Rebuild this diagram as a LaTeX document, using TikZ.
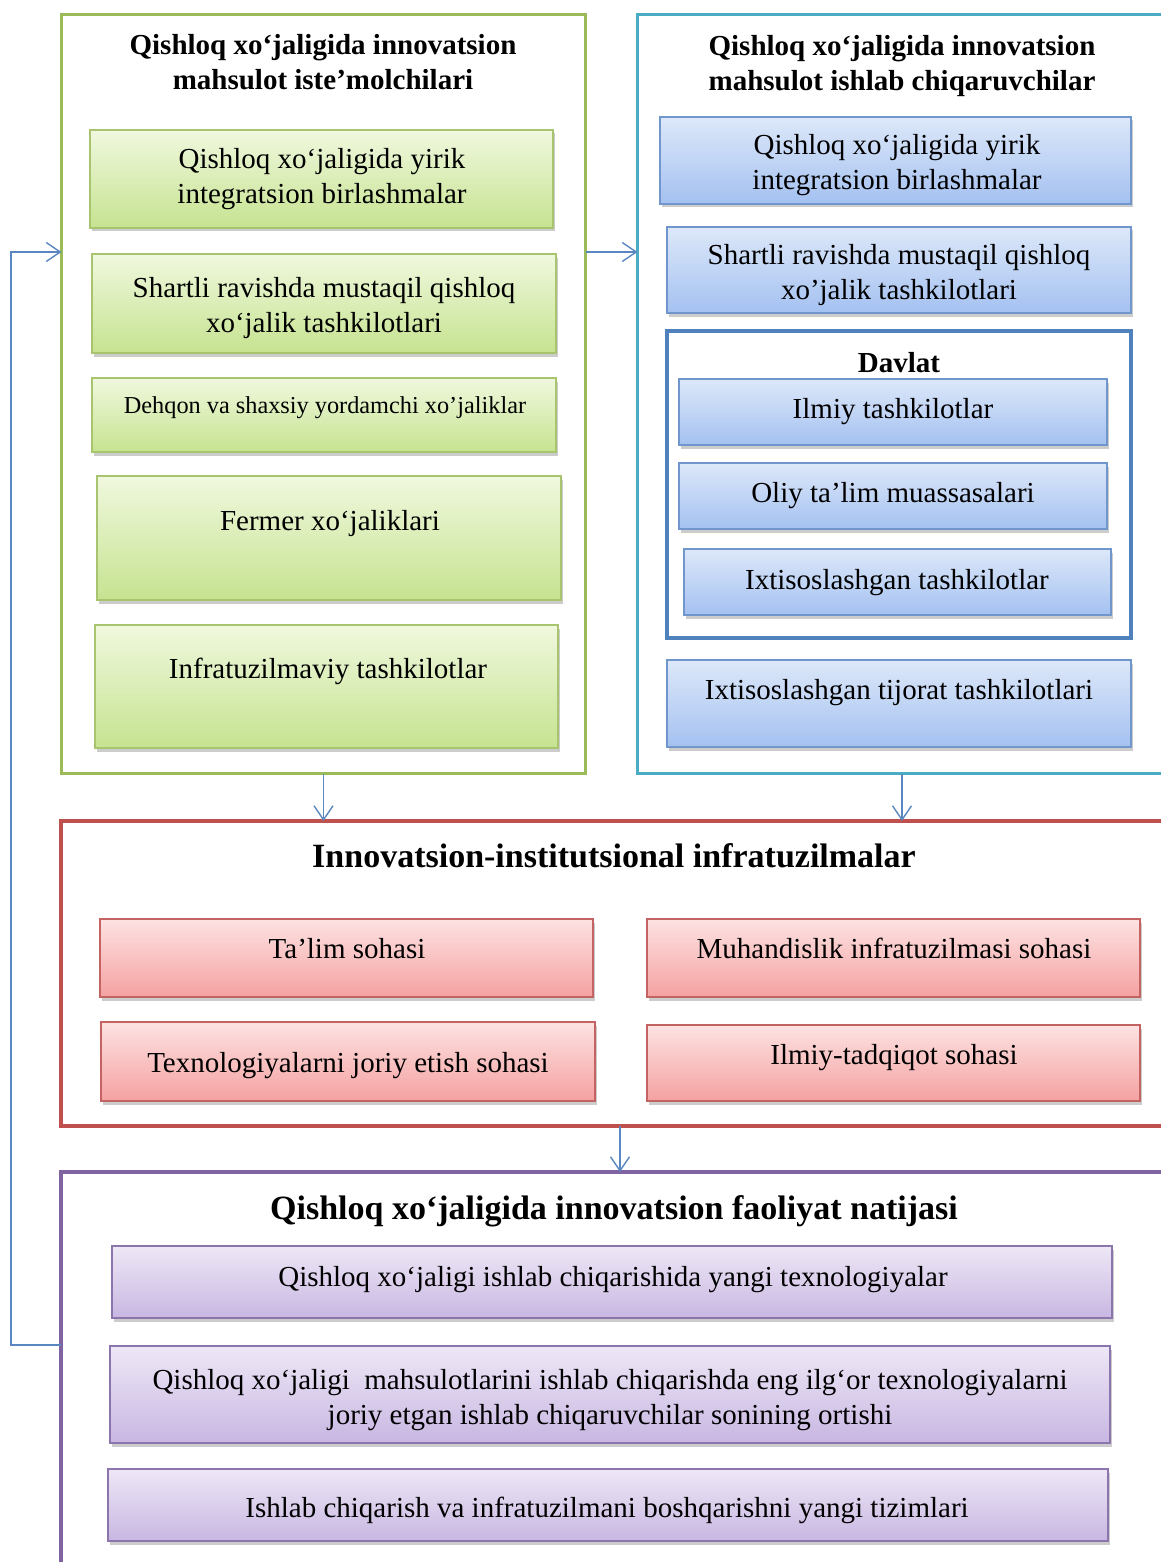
\documentclass[tikz,border=0pt]{standalone}
\usepackage{fontspec}
\setmainfont{Liberation Serif}
\usetikzlibrary{shadows,arrows.meta}
\definecolor{gline}{HTML}{9BBB59}
\definecolor{gtop}{HTML}{F0F8DE}
\definecolor{gbot}{HTML}{C6E390}
\definecolor{gbord}{HTML}{A9C46E}
\definecolor{tline}{HTML}{4BACC6}
\definecolor{bline}{HTML}{4F81BD}
\definecolor{btop}{HTML}{DDE8F9}
\definecolor{bbot}{HTML}{A4C1F1}
\definecolor{bbord}{HTML}{7096CB}
\definecolor{rline}{HTML}{C0504D}
\definecolor{rtop}{HTML}{FDE2E2}
\definecolor{rbot}{HTML}{F5A1A1}
\definecolor{rbord}{HTML}{C46462}
\definecolor{pline}{HTML}{8064A2}
\definecolor{ptop}{HTML}{EEE7F6}
\definecolor{pbot}{HTML}{C8B7E2}
\definecolor{pbord}{HTML}{8C74AC}
\definecolor{arrc}{HTML}{5B87C0}
\begin{document}
\begin{tikzpicture}[x=1pt,y=-1pt,
  outerbox/.style={draw=#1,line width=3.5pt,rectangle,inner sep=0pt,outer sep=0pt},
  inbox/.style={rectangle,inner sep=0pt,outer sep=0pt,line width=1.6pt,
    drop shadow={opacity=0.4,shadow xshift=1.5pt,shadow yshift=-3.5pt}},
  gbox/.style={inbox,draw=gbord,top color=gtop,bottom color=gbot},
  bbox/.style={inbox,draw=bbord,top color=btop,bottom color=bbot},
  rbox/.style={inbox,draw=rbord,top color=rtop,bottom color=rbot},
  pbox/.style={inbox,draw=pbord,top color=ptop,bottom color=pbot},
  txt/.style={inner sep=0pt,align=center,font=\fontsize{29}{35}\selectfont,text depth=0.22em,yshift=-1.7pt},
  mtxt/.style={inner sep=0pt,align=center,font=\fontsize{29}{35}\selectfont,yshift=-3pt},
  smalltxt/.style={inner sep=0pt,align=center,font=\fontsize{24.3}{29}\selectfont,text depth=0.22em,yshift=-2pt},
  ttl/.style={inner sep=0pt,align=center,font=\fontsize{29}{35}\selectfont\bfseries,text depth=0.22em,yshift=-2pt},
  mttl/.style={inner sep=0pt,align=center,font=\fontsize{29}{35}\selectfont\bfseries},
  bigttl/.style={inner sep=0pt,align=center,font=\fontsize{34}{40}\selectfont\bfseries,text depth=0.22em,yshift=-2pt},
  arr/.style={draw=arrc,line width=1.4pt,-{Straight Barb[length=14pt,width=19pt,line width=1.4pt]}}
]
\useasboundingbox (0,0) rectangle (1160,1562);

% outer containers
\node[outerbox=gline,minimum width=524pt,minimum height=759pt] (g) at (323.5,394) {};
\node[outerbox=tline,minimum width=530.5pt,minimum height=759pt] (b) at (902.75,394) {};
\node[outerbox=rline,minimum width=1107pt,minimum height=305pt] (r) at (614.5,973.5) {};
\node[outerbox=pline,minimum width=1107pt,minimum height=418pt] (p) at (614.5,1381) {};

% titles
\node[mttl] (gt) at (323,62.5) {Qishloq xo‘jaligida innovatsion\\mahsulot iste’molchilari};
\node[mttl] (bt) at (902,66.5) {Qishloq xo‘jaligida innovatsion\\mahsulot ishlab chiqaruvchilar};
\node[bigttl] (rt) at (614,855) {Innovatsion-institutsional infratuzilmalar};
\node[bigttl] (pt) at (614,1207) {Qishloq xo‘jaligida innovatsion faoliyat natijasi};

% green boxes
\node[gbox,minimum width=463pt,minimum height=98pt] (g1) at (321.5,179) {};
\node[mtxt] (g1t) at (322,176) {Qishloq xo‘jaligida yirik\\integratsion birlashmalar};
\node[gbox,minimum width=464pt,minimum height=99pt] (g2) at (324,303.5) {};
\node[mtxt] (g2t) at (324,305) {Shartli ravishda mustaqil qishloq\\xo‘jalik tashkilotlari};
\node[gbox,minimum width=464pt,minimum height=74pt] (g3) at (324,415) {};
\node[smalltxt] (g3t) at (325,404) {Dehqon va shaxsiy yordamchi xo’jaliklar};
\node[gbox,minimum width=464pt,minimum height=124pt] (g4) at (329,538) {};
\node[txt] (g4t) at (330,520) {Fermer xo‘jaliklari};
\node[gbox,minimum width=463pt,minimum height=123pt] (g5) at (326.5,686.5) {};
\node[txt] (g5t) at (328,668) {Infratuzilmaviy tashkilotlar};

% blue boxes
\node[bbox,minimum width=471pt,minimum height=87pt] (b1) at (895.5,160.5) {};
\node[mtxt] (b1t) at (897,162.5) {Qishloq xo‘jaligida yirik\\integratsion birlashmalar};
\node[bbox,minimum width=464pt,minimum height=86pt] (b2) at (899,270) {};
\node[mtxt] (b2t) at (899,272.5) {Shartli ravishda mustaqil qishloq\\xo’jalik tashkilotlari};
\node[outerbox=bline,minimum width=464pt,minimum height=307pt] (dv) at (899,484.5) {};
\node[ttl] (dvt) at (899,362) {Davlat};
\node[bbox,minimum width=428pt,minimum height=66pt] (d1) at (893,412) {};
\node[txt] (d1t) at (893,408) {Ilmiy tashkilotlar};
\node[bbox,minimum width=428pt,minimum height=66pt] (d2) at (893,496) {};
\node[txt] (d2t) at (893,492) {Oliy ta’lim muassasalari};
\node[bbox,minimum width=427pt,minimum height=66pt] (d3) at (897.5,582) {};
\node[txt] (d3t) at (897,579) {Ixtisoslashgan tashkilotlar};
\node[bbox,minimum width=464pt,minimum height=87pt] (b3) at (899,703.5) {};
\node[txt] (b3t) at (899,689) {Ixtisoslashgan tijorat tashkilotlari};

% red boxes
\node[rbox,minimum width=493pt,minimum height=78pt] (r1) at (346.5,958) {};
\node[txt] (r1t) at (347,948) {Ta’lim sohasi};
\node[rbox,minimum width=493pt,minimum height=78pt] (r2) at (893.5,958) {};
\node[txt] (r2t) at (894,948) {Muhandislik infratuzilmasi sohasi};
\node[rbox,minimum width=494pt,minimum height=79pt] (r3) at (348,1061.5) {};
\node[txt] (r3t) at (348,1062) {Texnologiyalarni joriy etish sohasi};
\node[rbox,minimum width=493pt,minimum height=76pt] (r4) at (893.5,1063) {};
\node[txt] (r4t) at (894,1054) {Ilmiy-tadqiqot sohasi};

% purple boxes
\node[pbox,minimum width=1000pt,minimum height=72pt] (p1) at (612,1282) {};
\node[txt] (p1t) at (613,1276) {Qishloq xo‘jaligi ishlab chiqarishida yangi texnologiyalar};
\node[pbox,minimum width=1000pt,minimum height=97pt] (p2) at (610,1394.5) {};
\node[mtxt] (p2t) at (610,1397) {Qishloq xo‘jaligi\ \ mahsulotlarini ishlab chiqarishda eng ilg‘or texnologiyalarni\\joriy etgan ishlab chiqaruvchilar sonining ortishi};
\node[pbox,minimum width=1000pt,minimum height=72pt] (p3) at (608,1505) {};
\node[txt] (p3t) at (607,1507) {Ishlab chiqarish va infratuzilmani boshqarishni yangi tizimlari};

% connectors
\coordinate (hy) at (0,252);
\coordinate (fb1) at (11,1345);
\coordinate (fb2) at (11,252);
\coordinate (rx) at (620,0);
\coordinate (bx) at (902,0);
\draw[arr] (g.east |- hy) -- (b.west |- hy);
\draw[arr] (g.south) -- (g.south |- r.north);
\draw[arr] (b.south -| bx) -- (r.north -| bx);
\draw[arr] (r.south -| rx) -- (p.north -| rx);
\draw[arr] (p.west |- fb1) -- (fb1) -- (fb2) -- (g.west |- fb2);
\end{tikzpicture}
\end{document}
